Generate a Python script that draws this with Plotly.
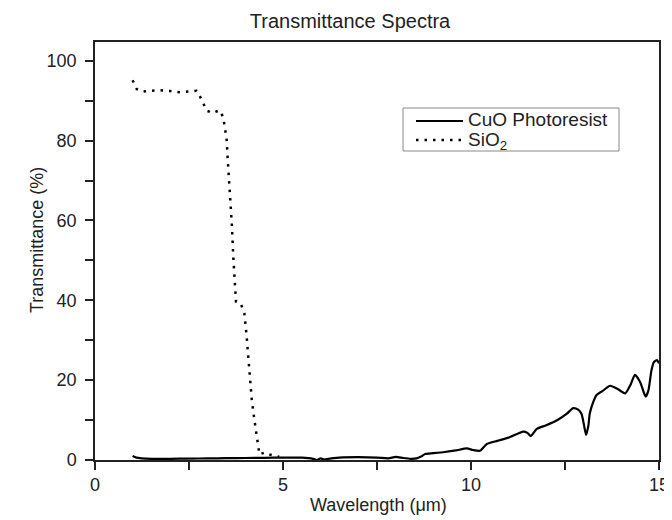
import plotly.graph_objects as go

# CuO photoresist transmittance
cuo_x = [1.0, 1.1, 1.5, 2.0, 2.5, 3.0, 3.5, 4.0, 4.5, 5.0, 5.5, 5.8, 5.9, 6.0, 6.1, 6.2, 6.5, 7.0, 7.5, 7.8,
         8.0, 8.2, 8.4, 8.55, 8.7, 8.78, 9.0, 9.3, 9.6, 9.89, 10.05, 10.24, 10.42, 10.7, 11.0, 11.39, 11.5,
         11.59, 11.75, 12.0, 12.3, 12.55, 12.72, 12.85, 12.94, 13.0, 13.06, 13.12, 13.16, 13.25, 13.34, 13.5,
         13.7, 13.9, 14.1, 14.25, 14.36, 14.5, 14.6, 14.65, 14.72, 14.8, 14.87, 14.95, 15.0]
cuo_y = [1.0, 0.6, 0.3, 0.3, 0.35, 0.4, 0.45, 0.5, 0.55, 0.6, 0.6, 0.3, 0.0, 0.4, 0.1, 0.3, 0.6, 0.7, 0.6, 0.4,
         0.8, 0.5, 0.3, 0.4, 1.0, 1.5, 1.7, 2.0, 2.4, 2.9, 2.5, 2.3, 4.0, 4.8, 5.6, 7.1, 6.8,
         6.0, 7.8, 8.7, 10.0, 11.6, 13.0, 12.6, 11.5, 9.0, 6.3, 8.5, 11.7, 14.5, 16.3, 17.3,
         18.6, 17.8, 16.7, 19.0, 21.3, 19.5, 16.8, 15.9, 17.5, 22.5, 24.6, 25.0, 24.2]

# SiO2 transmittance
sio2_x = [1.0, 1.05, 1.11, 1.2, 1.29, 1.5, 1.73, 2.0, 2.26, 2.5, 2.70, 2.79, 2.88, 2.97, 3.13, 3.31, 3.41,
          3.46, 3.50, 3.53, 3.59, 3.64, 3.68, 3.72, 3.75, 3.87, 3.97, 4.03, 4.10, 4.17, 4.24, 4.30, 4.33,
          4.37, 4.52, 4.67, 4.9]
sio2_y = [95.1, 94.0, 92.9, 92.5, 92.3, 92.5, 92.6, 92.4, 92.1, 92.3, 92.5, 91.1, 89.1, 87.5, 86.9, 87.6, 85.9,
          83.1, 80.4, 75.2, 66.8, 58.9, 50.5, 42.6, 39.7, 39.3, 36.8, 31.3, 23.0, 15.0, 10.0, 6.7, 4.2,
          1.4, 1.9, 1.3, 0.8]

series_names = ["CuO Photoresist", "SiO<sub>2</sub>"]
x_ticks = [0, 5, 10, 15]
y_ticks = [0, 20, 40, 60, 80, 100]

FONT = "Liberation Sans, Arial, sans-serif"
TXT = "#222"
OFF = 8  # page body margin of the browser
W, H = 672 - OFF, 520 - OFF
L, T = 95 - OFF, 42 - OFF
R = W - (659 - OFF)
B = H - (460 - OFF)
PW, PH = W - L - R, H - T - B


def px(xp):  # window pixel x -> paper
    return (xp - OFF - L) / PW


def py(yp):  # window pixel y -> paper
    return (H - B - (yp - OFF)) / PH


fig = go.Figure()
fig.add_trace(go.Scatter(x=cuo_x, y=cuo_y, mode="lines", name=series_names[0], showlegend=False,
                         line=dict(color="black", width=2.2, shape="spline", smoothing=0.6)))
fig.add_trace(go.Scatter(x=sio2_x, y=sio2_y, mode="lines", name=series_names[1], showlegend=False,
                         line=dict(color="black", width=2.5, dash="2.5px,6px")))

# legend drawn as box + sample lines + labels
shapes = [
    dict(type="rect", xref="paper", yref="paper", x0=px(403), x1=px(619), y0=py(151), y1=py(108),
         line=dict(color="#888", width=1), fillcolor="white", layer="below"),
    dict(type="line", xref="paper", yref="paper", x0=px(416), x1=px(463), y0=py(121), y1=py(121),
         line=dict(color="black", width=2.2)),
    dict(type="line", xref="paper", yref="paper", x0=px(416), x1=px(461), y0=py(140), y1=py(140),
         line=dict(color="black", width=2.5, dash="2.5px,6px")),
]
annotations = [
    dict(text=series_names[0], xref="paper", yref="paper", x=px(466), y=py(120), xanchor="left",
         yanchor="middle", showarrow=False, font=dict(size=19, color=TXT)),
    dict(text=series_names[1], xref="paper", yref="paper", x=px(466), y=py(141), xanchor="left",
         yanchor="middle", showarrow=False, font=dict(size=19, color=TXT)),
    dict(text="Wavelength (μm)", xref="paper", yref="paper", x=px(378), y=py(505), xanchor="center",
         yanchor="middle", showarrow=False, font=dict(size=18, color=TXT)),
    dict(text="Transmittance (%)", xref="paper", yref="paper", x=px(37), y=py(240), xanchor="center",
         yanchor="middle", showarrow=False, textangle=-90, font=dict(size=18, color=TXT)),
]

fig.update_layout(
    width=W, height=H,
    margin=dict(l=L, r=R, t=T, b=B),
    paper_bgcolor="white", plot_bgcolor="white",
    font=dict(family=FONT, size=18, color=TXT),
    title=dict(text="Transmittance Spectra", x=(350 - OFF) / W, xref="container", xanchor="center",
               y=1 - (21 - OFF) / H, yanchor="middle", font=dict(size=20, color=TXT)),
    showlegend=False,
    shapes=shapes,
    annotations=annotations,
)
fig.update_xaxes(range=[0, 15], tickvals=x_ticks, ticks="outside", ticklen=8, tickwidth=1.5,
                 tickcolor=TXT, showline=True, linecolor=TXT, linewidth=1.5, mirror=True,
                 showgrid=False, zeroline=False, automargin=False, ticklabeloverflow="allow",
                 minor=dict(dtick=2.5, tick0=0, ticks="outside", ticklen=8, tickwidth=1.5, tickcolor=TXT),
                 tickfont=dict(size=18))
fig.update_yaxes(range=[0, 104.7], tickvals=y_ticks, ticks="outside", ticklen=8, tickwidth=1.5,
                 tickcolor=TXT, showline=True, linecolor=TXT, linewidth=1.5, mirror=True,
                 showgrid=False, zeroline=False, automargin=False, ticklabelstandoff=5,
                 minor=dict(dtick=10, tick0=0, ticks="outside", ticklen=8, tickwidth=1.5, tickcolor=TXT),
                 tickfont=dict(size=18))

fig.write_html("out.html")
